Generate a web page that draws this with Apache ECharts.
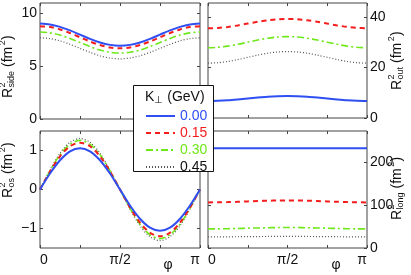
<!DOCTYPE html>
<html>
<head>
<meta charset="utf-8">
<script src="https://cdn.jsdelivr.net/npm/echarts@6/dist/echarts.min.js"></script>
<style>html,body{margin:0;padding:0;background:#fff}#c{width:411px;height:275px}</style>
</head>
<body>
<div id="c"></div>
<script>
// phi sample points (radians, 0..pi)
const phi = [0, 0.1963, 0.3927, 0.5890, 0.7854, 0.9817, 1.1781, 1.3744, 1.5708, 1.7671, 1.9635, 2.1598, 2.3562, 2.5525, 2.7489, 2.9452, 3.1416];
const kNames = ['0.00', '0.15', '0.30', '0.45'];
const xTickVals = [0, 0.7854, 1.5708, 2.3562, 3.1416];
const xLabelVals = [0, 1.5708, 3.1416];
const xLabelText = ['0', 'π/2', 'π'];

// R^2_side (fm^2)
const sideK000 = [9.05,8.97,8.74,8.40,8.00,7.60,7.26,7.03,6.95,7.03,7.26,7.60,8.00,8.40,8.74,8.97,9.05];
const sideK015 = [8.80,8.72,8.49,8.15,7.75,7.35,7.01,6.78,6.70,6.78,7.01,7.35,7.75,8.15,8.49,8.72,8.80];
const sideK030 = [8.25,8.17,7.96,7.63,7.25,6.87,6.54,6.33,6.25,6.33,6.54,6.87,7.25,7.63,7.96,8.17,8.25];
const sideK045 = [7.70,7.62,7.41,7.08,6.70,6.32,5.99,5.78,5.70,5.78,5.99,6.32,6.70,7.08,7.41,7.62,7.70];
// R^2_out (fm^2)
const outK000 = [6.70,6.78,6.99,7.32,7.70,8.08,8.41,8.62,8.70,8.62,8.41,8.08,7.70,7.32,6.99,6.78,6.70];
const outK015 = [35.50,35.64,36.04,36.64,37.35,38.06,38.66,39.06,39.20,39.06,38.66,38.06,37.35,36.64,36.04,35.64,35.50];
const outK030 = [27.80,27.97,28.44,29.16,30.00,30.84,31.56,32.03,32.20,32.03,31.56,30.84,30.00,29.16,28.44,27.97,27.80];
const outK045 = [21.70,21.87,22.37,23.12,24.00,24.88,25.63,26.13,26.30,26.13,25.63,24.88,24.00,23.12,22.37,21.87,21.70];
// R^2_os (fm^2)
const osK000 = [0,0.41,0.75,0.98,1.06,0.98,0.75,0.41,0,-0.41,-0.75,-0.98,-1.06,-0.98,-0.75,-0.41,0];
const osK015 = [0,0.46,0.85,1.11,1.20,1.11,0.85,0.46,0,-0.46,-0.85,-1.11,-1.20,-1.11,-0.85,-0.46,0];
const osK030 = [0,0.48,0.89,1.16,1.26,1.16,0.89,0.48,0,-0.48,-0.89,-1.16,-1.26,-1.16,-0.89,-0.48,0];
const osK045 = [0,0.50,0.93,1.21,1.31,1.21,0.93,0.50,0,-0.50,-0.93,-1.21,-1.31,-1.21,-0.93,-0.50,0];
// R^2_long (fm^2)
const longK000 = [232,232,232,232,232,232,232,232,232,232,232,232,232,232,232,232,232];
const longK015 = [106.0,106.2,106.7,107.4,108.3,109.2,109.9,110.4,110.6,110.4,109.9,109.2,108.3,107.4,106.7,106.2,106.0];
const longK030 = [44.4,44.5,44.9,45.4,46.0,46.6,47.1,47.5,47.6,47.5,47.1,46.6,46.0,45.4,44.9,44.5,44.4];
const longK045 = [25.8,25.9,26.0,26.2,26.4,26.6,26.8,26.9,26.9,26.9,26.8,26.6,26.4,26.2,26.0,25.9,25.8];

// y axis tick values
const ySideTicks = [0, 5, 10];
const yOutTicks = [0, 20, 40];
const yOsTicks = [-1, 0, 1];
const yLongTicks = [0, 100, 200];

const FONT = 'Liberation Sans, Arial, Helvetica, sans-serif';
const AXC = '#444';
const colors = ['#2f4ff2', '#f41c1c', '#6fe81a', '#555555'];
const lineStyles = [
  {width: 2, type: 'solid'},
  {width: 2, type: [5, 4]},
  {width: 1.6, type: [7, 3, 2, 3]},
  {width: 1.2, type: [1, 2]}
];

const grids = [
  {left: 40, top: 3, width: 160, height: 116},
  {left: 208, top: 3, width: 159, height: 115},
  {left: 40, top: 131, width: 160, height: 117},
  {left: 208, top: 131, width: 159, height: 117}
].map(g => Object.assign({show: true, borderColor: AXC, borderWidth: 1, backgroundColor: 'transparent'}, g));

function fmtX(v) {
  let best = 0;
  for (let i = 0; i < xLabelVals.length; i++) if (Math.abs(xLabelVals[i] - v) < Math.abs(xLabelVals[best] - v)) best = i;
  return xLabelText[best];
}

const xAxes = [], yAxes = [];
function addX(gi, pos, labels) {
  xAxes.push({
    type: 'value', gridIndex: gi, position: pos, min: 0, max: 3.1416,
    axisLine: {show: false, onZero: false}, splitLine: {show: false},
    axisTick: {show: true, inside: true, length: 3, customValues: xTickVals, lineStyle: {color: AXC}},
    axisLabel: {show: labels, customValues: xLabelVals, formatter: fmtX, margin: 5,
      fontSize: 14, color: '#111', fontFamily: FONT, alignMinLabel: 'left', alignMaxLabel: 'right'}
  });
}
function addY(gi, pos, min, max, ticks, labels) {
  yAxes.push({
    type: 'value', gridIndex: gi, position: pos, min: min, max: max,
    axisLine: {show: false, onZero: false}, splitLine: {show: false},
    axisTick: {show: true, inside: true, length: 3, customValues: ticks, lineStyle: {color: AXC}},
    axisLabel: {show: labels, customValues: ticks, margin: 3, fontSize: 14, color: '#111', fontFamily: FONT,
      formatter: v => (v < 0 ? '\u2212' + Math.abs(v) : String(v))}
  });
}
const yRanges = [[0, 11, ySideTicks, 'left'], [0, 45.5, yOutTicks, 'right'], [-1.5, 1.5, yOsTicks, 'left'], [0, 272, yLongTicks, 'right']];
for (let g = 0; g < 4; g++) {
  addX(g, 'bottom', g >= 2);
  const r = yRanges[g];
  addY(g, r[3], r[0], r[1], r[2], true);
}
for (let g = 0; g < 4; g++) {
  addX(g, 'top', false);
  const r = yRanges[g];
  addY(g, r[3] === 'left' ? 'right' : 'left', r[0], r[1], r[2], false);
}

const panelData = [
  [sideK000, sideK015, sideK030, sideK045],
  [outK000, outK015, outK030, outK045],
  [osK000, osK015, osK030, osK045],
  [longK000, longK015, longK030, longK045]
];
const series = [];
for (let g = 0; g < 4; g++) {
  for (let k = 3; k >= 0; k--) {
    series.push({
      type: 'line', name: kNames[k], xAxisIndex: g, yAxisIndex: g,
      data: phi.map((p, i) => [p, panelData[g][k][i]]),
      symbol: 'none', smooth: 0.3, color: colors[k],
      lineStyle: Object.assign({color: colors[k]}, lineStyles[k]),
      z: 2 + (3 - k) * 0.1
    });
  }
}

function yTitle(bx, by, sub, subW) {
  const fs = 14, ss = 9;
  return {
    type: 'group', x: bx, y: by, rotation: Math.PI / 2, z: 10,
    children: [
      {type: 'text', x: 0, y: 0, style: {text: 'R', fontSize: fs, fontFamily: FONT, fill: '#111', align: 'left', verticalAlign: 'middle'}},
      {type: 'text', x: 10.5, y: -5.5, style: {text: '2', fontSize: ss, fontFamily: FONT, fill: '#111', align: 'left', verticalAlign: 'middle'}},
      {type: 'text', x: 10.5, y: 4, style: {text: sub, fontSize: ss, fontFamily: FONT, fill: '#111', align: 'left', verticalAlign: 'middle'}},
      {type: 'text', x: 10.5 + subW + 4, y: 0, style: {text: '(fm', fontSize: fs, fontFamily: FONT, fill: '#111', align: 'left', verticalAlign: 'middle'}},
      {type: 'text', x: 10.5 + subW + 4 + 21.8, y: -5.5, style: {text: '2', fontSize: ss, fontFamily: FONT, fill: '#111', align: 'left', verticalAlign: 'middle'}},
      {type: 'text', x: 10.5 + subW + 4 + 27, y: 0, style: {text: ')', fontSize: fs, fontFamily: FONT, fill: '#111', align: 'left', verticalAlign: 'middle'}}
    ]
  };
}

const option = {
  animation: false,
  backgroundColor: '#fff',
  grid: grids,
  xAxis: xAxes,
  yAxis: yAxes,
  series: series,
  legend: {
    orient: 'vertical', left: 140, top: 104, itemWidth: 29, itemHeight: 14, itemGap: 3, z: 20,
    selectedMode: false,
    itemStyle: {opacity: 0},
    data: kNames.map((n, k) => ({name: n, textStyle: {color: k === 3 ? '#111' : colors[k], fontSize: 14, fontFamily: FONT}}))
  },
  graphic: [
    {type: 'rect', shape: {x: 133.5, y: 85.5, width: 80, height: 86}, style: {fill: '#fff', stroke: '#111', lineWidth: 1}, z: 15},
    {type: 'text', x: 145, y: 97, z: 16, style: {text: 'K{s|⊥} (GeV)', fontSize: 14, fontFamily: FONT, fill: '#111', verticalAlign: 'middle',
      rich: {s: {fontSize: 10, fontFamily: FONT, fill: '#111', verticalAlign: 'bottom', padding: [6, 0, 0, 0]}}}},
    {type: 'text', x: 168, y: 265, style: {text: 'φ', fontSize: 14, fontFamily: FONT, fill: '#111', align: 'center', verticalAlign: 'middle'}},
    {type: 'text', x: 336, y: 265, style: {text: 'φ', fontSize: 14, fontFamily: FONT, fill: '#111', align: 'center', verticalAlign: 'middle'}},
    yTitle(8, 98, 'side', 16.5),
    yTitle(397, 90, 'out', 12.5),
    yTitle(8, 198, 'os', 9.5),
    yTitle(397, 220, 'long', 17)
  ]
};
const chart = echarts.init(document.getElementById('c'), null, {renderer: 'canvas'});
chart.setOption(option);
</script>
</body>
</html>
